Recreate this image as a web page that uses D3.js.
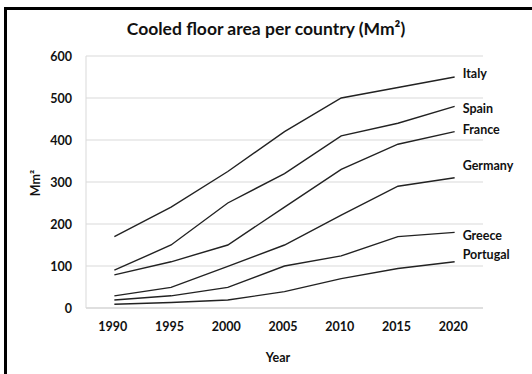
<!DOCTYPE html>
<html><head><meta charset="utf-8">
<script src="https://cdn.jsdelivr.net/npm/d3@7/dist/d3.min.js"></script>
<style>
html,body{margin:0;padding:0;background:#fff;}
svg{display:block;}
text{font-family:Lato,"Open Sans",sans-serif;font-weight:bold;fill:#111;}
</style></head>
<body><svg id="c" width="532" height="374"></svg>
<script>
const years = ["1990","1995","2000","2005","2010","2015","2020"];
const yTicks = [0,100,200,300,400,500,600];
const countries = ["Italy","Spain","France","Germany","Greece","Portugal"];
const italy    = [170,240,325,420,500,525,550];
const spain    = [90,150,250,320,410,440,480];
const france   = [79,110,150,240,330,390,420];
const germany  = [29,49,99,150,221,290,310];
const greece   = [19,29,49,100,124,170,180];
const portugal = [9,13,19,39,70,94,110];
const seriesValues = [italy,spain,france,germany,greece,portugal];
const labelOffsets = [-3,2,-2,-12,3,-7]; // label y shift (px)

const svg = d3.select("#c");
// frame (top + left)
svg.append("rect").attr("x",5.5).attr("y",8.5).attr("width",540).attr("height",380)
  .attr("fill","none").attr("stroke","#000").attr("stroke-width",3);

const x = d3.scalePoint().domain(years).range([86,483]).padding(0.5);
const y = d3.scaleLinear().domain([0,600]).range([308,56]);

// gridlines
svg.append("g").selectAll("line").data(yTicks).join("line")
  .attr("x1",86).attr("x2",483).attr("y1",d=>y(d)).attr("y2",d=>y(d))
  .attr("stroke",d=>d===0?"#bfbfbf":"#d9d9d9").attr("stroke-width",1);
svg.append("line").attr("x1",86).attr("x2",86).attr("y1",y(600)).attr("y2",y(0))
  .attr("stroke","#d9d9d9");

// axes
const yAxis = d3.axisLeft(y).tickValues(yTicks).tickSize(0).tickPadding(14);
const gy = svg.append("g").attr("transform","translate(86,0)").call(yAxis);
gy.select(".domain").remove();
gy.selectAll("text").attr("font-size",12.5).attr("font-family","Lato").attr("font-weight","bold").attr("fill","#111");

const xAxis = d3.axisBottom(x).tickSize(0).tickPadding(14);
const gx = svg.append("g").attr("transform","translate(0,308)").call(xAxis);
gx.select(".domain").remove();
gx.selectAll("text").attr("font-size",12.5).attr("font-family","Lato").attr("font-weight","bold").attr("fill","#111").attr("dx",-2);

// lines
const line = d3.line().x((d,i)=>x(years[i])).y(d=>y(d));
svg.append("g").selectAll("path").data(seriesValues).join("path")
  .attr("d",line).attr("fill","none").attr("stroke","#222").attr("stroke-width",1.4);

// series labels
svg.append("g").selectAll("text").data(countries).join("text")
  .attr("x",(d,i)=>x(years[years.length-1])+8)
  .attr("y",(d,i)=>y(seriesValues[i][years.length-1])+labelOffsets[i])
  .attr("dy","0.35em").attr("font-size",12.5).text(d=>d);

// title
svg.append("text").attr("x",266).attr("y",35).attr("text-anchor","middle")
  .attr("font-size",17.5).text("Cooled floor area per country (Mm²)");
// axis titles
svg.append("text").attr("x",278).attr("y",362).attr("text-anchor","middle")
  .attr("font-size",12.5).text("Year");
svg.append("text").attr("transform","translate(40,183) rotate(-90)").attr("text-anchor","middle")
  .attr("font-size",12.5).text("Mm²");
</script></body></html>
